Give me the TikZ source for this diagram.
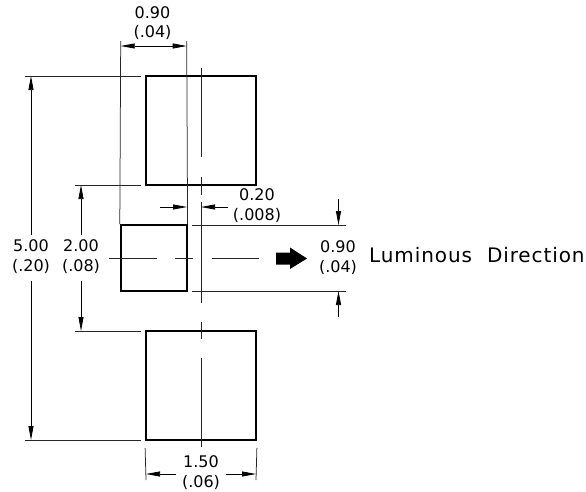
\documentclass[tikz,border=0pt]{standalone}
\usepackage{fontspec}
\setmainfont{DejaVu Sans}
\usetikzlibrary{arrows.meta}

\begin{document}
\begin{tikzpicture}[
    x=1pt, y=-1pt,
    % Node styles
    pad/.style={rectangle, draw=black, line width=1.8pt, inner sep=0pt, fill=none},
    bigpad/.style={pad, minimum width=110pt, minimum height=109pt},
    smallpad/.style={pad, minimum width=66pt, minimum height=66pt},
    dimtext/.style={font=\fontsize{16}{19.5}\selectfont, align=center, inner sep=0pt},
    % Line styles
    extline/.style={line width=0.75pt, color=black!85},
    center line/.style={line width=0.75pt, color=black!85},
    dimline/.style={-{Triangle[length=14pt,width=5pt]}, line width=0.75pt, color=black}
]

% Margins
\useasboundingbox (0,0) rectangle (586,491);

% Pads
\node[bigpad] (top_pad) at (201,130.5) {};
\node[bigpad] (bottom_pad) at (201,385.5) {};
\node[smallpad] (led_pad) at (153.7,258) {};

% Center lines
\draw[center line] (201,68) -- (201,157);
\draw[center line] (201,177) -- (201,195);
\draw[center line] (201,202) -- (201,303);
\draw[center line] (201,322) -- (201,339);
\draw[center line] (201,358) -- (201,447);
\draw[center line] (109,258.3) -- (157,258.3);
\draw[center line] (175,258.3) -- (193,258.3);
\draw[center line] (212,258.3) -- (259,258.3);

% Extension lines
\draw[extline] (led_pad.north west) -- (120.7,41);
\draw[extline] (led_pad.north east) -- (186.7,41);
\draw[extline] (25,76) -- (141,76);
\draw[extline] (25,440) -- (141,440);
\draw[extline] (75,185) -- (141,185);
\draw[extline] (75,331) -- (141,331);
\draw[extline] (192,225) -- (346,225);
\draw[extline] (192,291) -- (346,291);
\draw[extline] (bottom_pad.south west) ++(0,7) -- (146,480);
\draw[extline] (bottom_pad.south east) ++(0,7) -- (256,480);

% Dimension labels
\node[dimtext] (dim_width) at (152.5,23) {0.90\\(.04)};
\node[dimtext] (dim_total) at (31,256.5) {5.00\\(.20)};
\node[dimtext] (dim_gap) at (81,256.5) {2.00\\(.08)};
\node[dimtext] (dim_space) at (257,205.5) {0.20\\(.008)};
\node[dimtext] (dim_height) at (338,257.5) {0.90\\(.04)};
\node[dimtext] (dim_pad) at (201,472.5) {1.50\\(.06)};

% Dimension arrows
\draw[dimline, {Triangle[length=14pt,width=5pt]}-{Triangle[length=14pt,width=5pt]}] (120.7,46) -- (186.7,46);
\draw[dimline] (31,235) -- (31,76);
\draw[dimline] (31,281) -- (31,440);
\draw[dimline] (81,235) -- (81,185);
\draw[dimline] (81,281) -- (81,331);
\draw[dimline] (160,207) -- (187,207);
\draw[dimline] (228,207) -- (201,207);
\draw[dimline] (338.5,199) -- (338.5,225);
\draw[dimline] (338.5,317) -- (338.5,291);
\draw[dimline] (176,474) -- (146,474);
\draw[dimline] (226,474) -- (256,474);

% Direction arrow and label
\fill[black] (276,252.5) -- (290,252.5) -- (290,247.5) -- (307,258.5) -- (290,269) -- (290,264.5) -- (276,264.5) -- cycle;
\node[font=\addfontfeature{LetterSpace=4.5}\fontsize{20}{22}\selectfont, anchor=west, inner sep=0pt] (direction_label) at (369,255.5) {Luminous\hspace{0.75em}Direction};

\end{tikzpicture}
\end{document}
